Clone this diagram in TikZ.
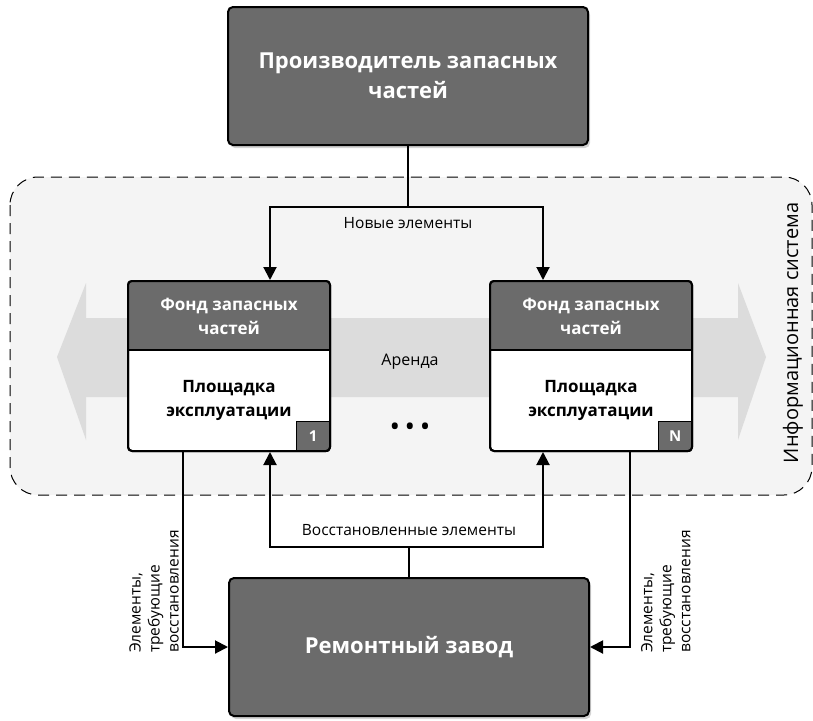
\documentclass[tikz,border=0pt]{standalone}
\usepackage{fontspec}
\setmainfont{Open Sans}
\usetikzlibrary{arrows.meta,calc,shadows}
\definecolor{darkbox}{HTML}{6B6B6B}
\definecolor{regionbg}{HTML}{F4F4F4}
\definecolor{bandgray}{HTML}{DCDCDC}
\tikzset{
  bigbox/.style={draw=black, line width=2pt, fill=darkbox, rounded corners=5pt,
    minimum width=360pt, minimum height=138pt, inner sep=0pt,
    text=white, font=\fontsize{22}{30}\selectfont\bfseries, align=center,
    drop shadow={opacity=0.35, shadow xshift=2pt, shadow yshift=-3pt}},
  panel/.style={draw=black, line width=2pt, rounded corners=4pt,
    minimum width=202pt, minimum height=170pt, inner sep=0pt},
  headtext/.style={text=white, font=\fontsize{17}{24}\selectfont\bfseries, align=center},
  bodytext/.style={text=black, font=\fontsize{17}{24}\selectfont\bfseries, align=center},
  badge/.style={fill=darkbox, draw=black, line width=1.5pt, minimum width=34pt, minimum height=30pt,
    inner sep=0pt, text=white, font=\fontsize{15}{17}\selectfont\bfseries},
  conn/.style={draw=black, line width=2pt},
  arr/.style={conn, -{Triangle[length=13pt,width=13pt]}},
  lbl/.style={font=\fontsize{15.5}{18}\selectfont, text=black, inner sep=1pt},
  vlbl/.style={font=\fontsize{15.5}{19}\selectfont, text=black, align=left, rotate=90, inner sep=0pt}
}
\begin{document}
\begin{tikzpicture}[x=1pt,y=-1pt]
\useasboundingbox (0,0) rectangle (813,720);
% information system region
\draw[line width=1pt, dash pattern=on 11pt off 7pt, fill=regionbg, rounded corners=28pt]
  (10,177) rectangle (812,495);
% lease double arrow
\fill[bandgray] (57,357) -- (86,283) -- (86,318) -- (738,318) -- (738,283) -- (766,357)
  -- (738,440) -- (738,397) -- (86,397) -- (86,440) -- cycle;
\node[lbl, font=\fontsize{16}{18}\selectfont] (lease) at (410,362) {Аренда};
\node[font=\fontsize{28}{28}\selectfont] (dots) at (410,430) {\textbullet\,\textbullet\,\textbullet};
\node[font=\fontsize{20}{24}\selectfont, rotate=90] (infosys) at (793,333) {Информационная система};

% top and bottom boxes
\node[bigbox] (prod) at (408,76) {Производитель запасных\\частей};
\node[bigbox] (repair) at (409,647) {Ремонтный завод};

% panel 1
\node[panel, fill=white] (box1) at (229,366) {};
\begin{scope}
  \clip[rounded corners=4pt] (box1.south west) rectangle (box1.north east);
  \fill[darkbox] (box1.north west) rectangle ($(box1.east)+(0,-16)$);
  \draw[line width=2pt] ($(box1.west)+(0,-16)$) -- ($(box1.east)+(0,-16)$);
  \node[badge, anchor=south east] (badge1) at (box1.south east) {1};
\end{scope}
\node[panel] (box1o) at (box1) {};
\node[headtext] (h1) at ($(box1.north)+(0,36)$) {Фонд запасных\\частей};
\node[bodytext] (p1) at ($(box1.center)+(0,34)$) {Площадка\\эксплуатации};

% panel N
\node[panel, fill=white] (box2) at (591,366) {};
\begin{scope}
  \clip[rounded corners=4pt] (box2.south west) rectangle (box2.north east);
  \fill[darkbox] (box2.north west) rectangle ($(box2.east)+(0,-16)$);
  \draw[line width=2pt] ($(box2.west)+(0,-16)$) -- ($(box2.east)+(0,-16)$);
  \node[badge, anchor=south east] (badge2) at (box2.south east) {N};
\end{scope}
\node[panel] (box2o) at (box2) {};
\node[headtext] (h2) at ($(box2.north)+(0,36)$) {Фонд запасных\\частей};
\node[bodytext] (p2) at ($(box2.center)+(0,34)$) {Площадка\\эксплуатации};

% new elements
\coordinate (jt) at (408,207);
\draw[conn] (prod.south) -- (jt);
\draw[arr] (jt) -| ($(box1.north)+(41,0)$);
\draw[arr] (jt) -| ($(box2.north)+(-48,0)$);
\node[lbl] (newel) at (408,223) {Новые элементы};

% restored elements
\coordinate (jb) at (409,547);
\draw[conn] (repair.north) -- (jb);
\draw[arr] (jb) -| ($(box1.south)+(41,0)$);
\draw[arr] (jb) -| ($(box2.south)+(-48,0)$);
\node[lbl] (restel) at (409,530) {Восстановленные элементы};

% elements requiring repair
\draw[arr] ($(box1.south)+(-46,0)$) |- (repair.west);
\draw[arr] ($(box2.south)+(39,0)$) |- (repair.east);
\node[vlbl, anchor=south west] (req1) at (179,653) {Элементы,\\требующие\\восстановления};
\node[vlbl, anchor=north west] (req2) at (641,653) {Элементы,\\требующие\\восстановления};
\end{tikzpicture}
\end{document}
